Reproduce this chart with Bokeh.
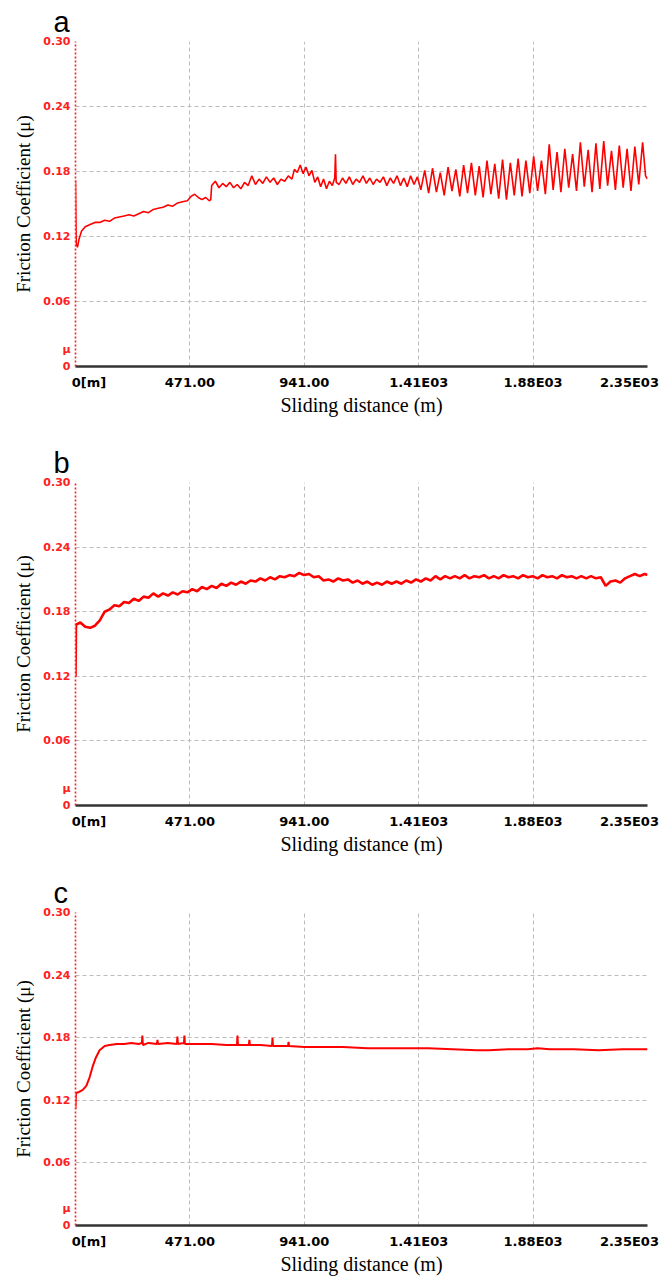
from bokeh.plotting import figure
from bokeh.layouts import column
from bokeh.models import FixedTicker, Range1d
from bokeh.embed import file_html
from bokeh.resources import INLINE

# ---------------- data ----------------
x_ticks = [0, 470.4, 940.8, 1411.2, 1881.6, 2352]
x_tick_labels = ["0[m]", "471.00", "941.00", "1.41E03", "1.88E03", "2.35E03"]
y_ticks = [0, 0.016, 0.06, 0.12, 0.18, 0.24, 0.30]
y_tick_labels = ["0", "μ", "0.06", "0.12", "0.18", "0.24", "0.30"]
y_grid = [0.06, 0.12, 0.18, 0.24, 0.30]
panel_letters = ["a", "b", "c"]

dist_a = [0, 3, 8, 15, 25, 40, 60, 80, 100, 120,
          140, 160, 180, 200, 220, 240, 260, 280, 300, 320,
          340, 360, 380, 400, 420, 440, 460, 475, 490, 505,
          520, 535, 550, 556, 560, 575, 590, 605, 620, 635,
          650, 665, 680, 695, 710, 725, 740, 755, 770, 785,
          800, 815, 830, 845, 860, 875, 890, 900, 912, 924,
          936, 948, 960, 972, 984, 996, 1008, 1020, 1032, 1044,
          1056, 1066, 1069, 1072, 1084, 1098, 1112, 1126, 1140, 1154,
          1168, 1182, 1196, 1210, 1224, 1238, 1252, 1266, 1280, 1294,
          1308, 1322, 1336, 1350, 1364, 1378, 1392, 1406, 1420, 1436,
          1452, 1468, 1484, 1500, 1516, 1532, 1548, 1564, 1580, 1596,
          1612, 1628, 1644, 1660, 1676, 1692, 1708, 1724, 1740, 1756,
          1772, 1788, 1804, 1820, 1836, 1852, 1868, 1884, 1900, 1916,
          1932, 1948, 1964, 1980, 1996, 2012, 2028, 2044, 2060, 2076,
          2092, 2108, 2124, 2140, 2156, 2172, 2188, 2204, 2220, 2236,
          2252, 2268, 2284, 2300, 2316, 2332, 2344, 2352]
mu_a = [0.172, 0.113, 0.110, 0.118, 0.125, 0.129, 0.131, 0.133, 0.133, 0.135,
        0.134, 0.137, 0.138, 0.139, 0.140, 0.139, 0.141, 0.143, 0.142, 0.145,
        0.146, 0.147, 0.149, 0.148, 0.151, 0.152, 0.153, 0.157, 0.159, 0.156,
        0.154, 0.156, 0.153, 0.154, 0.167, 0.171, 0.165, 0.169, 0.166, 0.170,
        0.165, 0.168, 0.164, 0.170, 0.167, 0.176, 0.168, 0.173, 0.169, 0.175,
        0.170, 0.174, 0.168, 0.173, 0.171, 0.176, 0.173, 0.182, 0.179, 0.186,
        0.178, 0.184, 0.176, 0.181, 0.170, 0.175, 0.166, 0.173, 0.164, 0.171,
        0.167, 0.174, 0.196, 0.170, 0.168, 0.174, 0.169, 0.175, 0.168, 0.173,
        0.170, 0.176, 0.169, 0.174, 0.168, 0.173, 0.170, 0.175, 0.167, 0.174,
        0.169, 0.176, 0.167, 0.174, 0.166, 0.176, 0.168, 0.175, 0.163, 0.181,
        0.160, 0.183, 0.161, 0.179, 0.158, 0.184, 0.162, 0.182, 0.157, 0.186,
        0.160, 0.188, 0.158, 0.185, 0.156, 0.190, 0.159, 0.187, 0.155, 0.191,
        0.154, 0.188, 0.158, 0.192, 0.157, 0.190, 0.160, 0.194, 0.162, 0.190,
        0.159, 0.205, 0.163, 0.198, 0.161, 0.201, 0.165, 0.196, 0.162, 0.207,
        0.166, 0.200, 0.161, 0.206, 0.164, 0.208, 0.167, 0.199, 0.163, 0.204,
        0.165, 0.201, 0.162, 0.203, 0.168, 0.207, 0.176, 0.173]

dist_b = [0, 2, 20, 40, 60, 80, 100, 120, 140, 160,
          180, 200, 220, 240, 260, 280, 300, 320, 340, 360,
          380, 400, 420, 440, 460, 480, 500, 520, 540, 560,
          580, 600, 620, 640, 660, 680, 700, 720, 740, 760,
          780, 800, 820, 840, 860, 880, 900, 920, 940, 960,
          980, 1000, 1020, 1040, 1060, 1080, 1100, 1120, 1140, 1160,
          1180, 1200, 1220, 1240, 1260, 1280, 1300, 1320, 1340, 1360,
          1380, 1400, 1420, 1440, 1460, 1480, 1500, 1520, 1540, 1560,
          1580, 1600, 1620, 1640, 1660, 1680, 1700, 1720, 1740, 1760,
          1780, 1800, 1820, 1840, 1860, 1880, 1900, 1920, 1940, 1960,
          1980, 2000, 2020, 2040, 2060, 2080, 2100, 2120, 2140, 2160,
          2180, 2200, 2220, 2240, 2260, 2280, 2300, 2320, 2340, 2352]
mu_b = [0.120, 0.168, 0.170, 0.166, 0.165, 0.167, 0.172, 0.180, 0.182, 0.186,
        0.185, 0.189, 0.188, 0.192, 0.190, 0.194, 0.193, 0.197, 0.194, 0.197,
        0.195, 0.198, 0.196, 0.199, 0.198, 0.201, 0.199, 0.203, 0.201, 0.204,
        0.202, 0.206, 0.204, 0.207, 0.205, 0.208, 0.206, 0.209, 0.208, 0.211,
        0.209, 0.212, 0.210, 0.213, 0.212, 0.214, 0.213, 0.216, 0.214, 0.215,
        0.212, 0.213, 0.209, 0.210, 0.208, 0.211, 0.209, 0.210, 0.207, 0.209,
        0.206, 0.208, 0.205, 0.207, 0.205, 0.208, 0.206, 0.208, 0.206, 0.209,
        0.207, 0.210, 0.208, 0.211, 0.209, 0.213, 0.210, 0.213, 0.211, 0.213,
        0.211, 0.214, 0.211, 0.213, 0.212, 0.214, 0.211, 0.213, 0.211, 0.214,
        0.212, 0.213, 0.211, 0.214, 0.212, 0.213, 0.211, 0.214, 0.212, 0.213,
        0.211, 0.214, 0.212, 0.213, 0.211, 0.213, 0.211, 0.213, 0.211, 0.212,
        0.204, 0.208, 0.209, 0.207, 0.211, 0.213, 0.215, 0.213, 0.215, 0.214]

dist_c = [0, 2, 15, 30, 45, 58, 70, 82, 99, 120,
          140, 170, 200, 230, 260, 273, 275, 277, 300, 335,
          337, 339, 380, 417, 419, 421, 446, 448, 450, 500,
          560, 620, 664, 666, 668, 713, 715, 717, 760, 808,
          810, 812, 874, 876, 878, 940, 1000, 1100, 1200, 1300,
          1378, 1450, 1550, 1650, 1700, 1780, 1860, 1900, 1950, 2050,
          2150, 2250, 2352]
mu_c = [0.112, 0.127, 0.128, 0.130, 0.134, 0.142, 0.152, 0.160, 0.168, 0.172,
        0.173, 0.174, 0.174, 0.175, 0.174, 0.175, 0.182, 0.173, 0.175, 0.174,
        0.178, 0.174, 0.175, 0.174, 0.181, 0.174, 0.175, 0.182, 0.174, 0.174,
        0.174, 0.173, 0.173, 0.182, 0.173, 0.173, 0.178, 0.173, 0.173, 0.172,
        0.180, 0.172, 0.172, 0.176, 0.172, 0.171, 0.171, 0.171, 0.170, 0.170,
        0.170, 0.170, 0.169, 0.168, 0.168, 0.169, 0.169, 0.170, 0.169, 0.169,
        0.168, 0.169, 0.169]

# ---------------- styling ----------------
RED = "#ff2020"
NB = "\u00a0"
# the first label sits right of its tick, the last one left of it (as in the original software)
x_label_pad = [(6, 0), (0, 0), (0, 0), (0, 0), (0, 0), (0, 3)]


def make_panel(letter, dist, mu, lw, fig_h, border_bottom):
    p = figure(width=672, height=fig_h,
               x_range=Range1d(x_ticks[0], x_ticks[-1]),
               y_range=Range1d(y_ticks[0], y_ticks[-1]),
               output_backend="svg", toolbar_location=None,
               min_border_left=75, min_border_right=25,
               min_border_top=39, min_border_bottom=border_bottom)
    p.outline_line_color = None
    p.background_fill_color = "white"
    p.border_fill_color = "white"

    # panel letter
    p.title.text = letter
    p.title.align = "left"
    p.title.offset = -22
    p.title.standoff = 7
    p.title.text_font = "Liberation Sans"
    p.title.text_font_size = "29px"
    p.title.text_font_style = "normal"
    p.title.text_color = "black"

    # grid
    p.xgrid.ticker = FixedTicker(ticks=x_ticks[1:])
    p.ygrid.ticker = FixedTicker(ticks=y_grid)
    p.grid.grid_line_color = "#bcbcbc"
    p.grid.grid_line_dash = "4 3"
    p.grid.grid_line_width = 1

    # x axis
    xa = p.xaxis[0]
    xa.ticker = FixedTicker(ticks=x_ticks)
    xa.major_label_overrides = {
        t: NB * pl + s + NB * pr for t, s, (pl, pr) in zip(x_ticks, x_tick_labels, x_label_pad)
    }
    xa.major_tick_line_color = None
    xa.minor_tick_line_color = None
    xa.major_tick_out = 0
    xa.major_tick_in = 0
    xa.major_label_standoff = 8
    xa.major_label_text_font = "DejaVu Sans"
    xa.major_label_text_font_style = "bold"
    xa.major_label_text_font_size = "13px"
    xa.major_label_text_color = "black"
    xa.axis_line_color = "#333333"
    xa.axis_line_width = 2.5
    xa.axis_label = "Sliding distance (m)"
    xa.axis_label_text_font = "Liberation Serif"
    xa.axis_label_text_font_size = "20px"
    xa.axis_label_text_font_style = "normal"
    xa.axis_label_text_color = "black"
    xa.axis_label_standoff = 1

    # y axis
    ya = p.yaxis[0]
    ya.ticker = FixedTicker(ticks=y_ticks)
    ya.major_label_overrides = dict(zip(y_ticks, y_tick_labels))
    ya.major_tick_line_color = None
    ya.minor_tick_line_color = None
    ya.major_tick_out = 0
    ya.major_tick_in = 0
    ya.major_label_standoff = 5
    ya.major_label_text_color = RED
    ya.major_label_text_font = "DejaVu Sans"
    ya.major_label_text_font_style = "bold"
    ya.major_label_text_font_size = "11px"
    ya.axis_line_color = RED
    ya.axis_line_dash = "2 2"
    ya.axis_line_width = 1.6
    ya.axis_label = "Friction Coefficient (μ)"
    ya.axis_label_text_font = "Liberation Serif"
    ya.axis_label_text_font_size = "19px"
    ya.axis_label_text_font_style = "normal"
    ya.axis_label_text_color = "black"
    ya.axis_label_standoff = 6

    # data
    p.line(dist, mu, line_color="#ff0000", line_width=lw)
    return p


pa = make_panel(panel_letters[0], dist_a, mu_a, 1.6, 441, 75)
pb = make_panel(panel_letters[1], dist_b, mu_b, 2.6, 430, 66)
pc = make_panel(panel_letters[2], dist_c, mu_c, 2.0, 406, 44)

layout = column(pa, pb, pc, spacing=0)
open("out.html", "w").write(file_html(layout, INLINE))
